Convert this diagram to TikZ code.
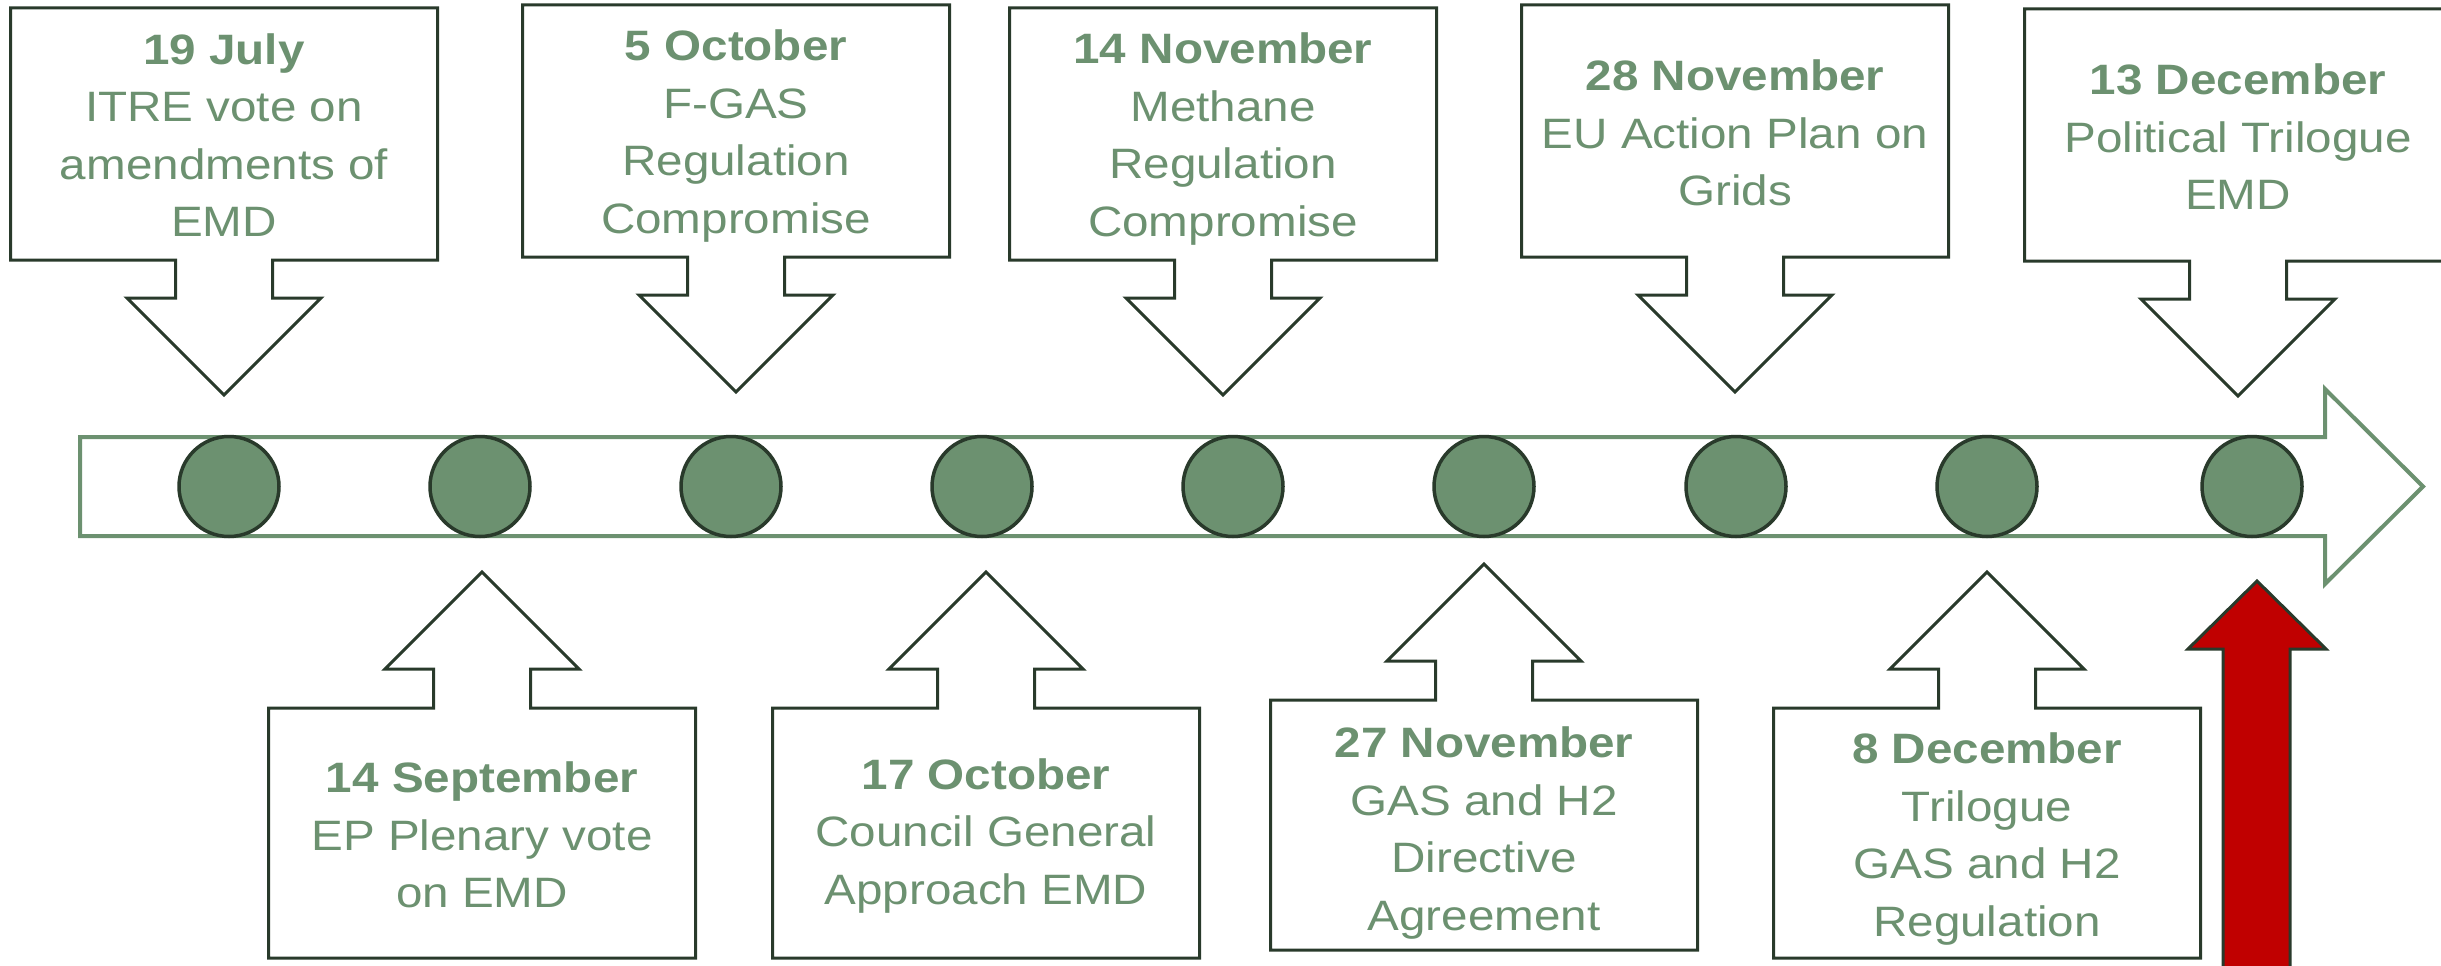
\documentclass[tikz,border=0pt]{standalone}
\usepackage{fontspec}
\setmainfont{Liberation Sans}[FakeStretch=1.12]
\definecolor{gr}{RGB}{108,145,112}
\definecolor{dk}{RGB}{41,58,43}
\definecolor{rd}{RGB}{192,0,0}
\tikzset{
  callout/.style={draw=dk, line width=3pt, fill=white, line join=miter},
  lbl/.style={align=center, inner sep=0pt, text=gr, font=\fontsize{42.5}{57.5}\selectfont},
  dot/.style={circle, draw=dk, line width=3.5pt, fill=gr, minimum size=100pt, inner sep=0pt},
  timeline/.style={draw=gr, line width=4pt, fill=white, line join=miter},
  redarrow/.style={draw=dk, line width=3pt, fill=rd, line join=miter}
}
% #1 name, #2 centre x, #3 box top y, #4 text y offset, #5 text
\newcommand\topcall[5]{%
  \draw[callout] ({#2-213.5},#3) -- ({#2+213.5},#3) -- ({#2+213.5},{#3+252}) -- ({#2+48.5},{#3+252}) -- ({#2+48.5},{#3+290}) -- ({#2+97},{#3+290}) -- (#2,{#3+387}) -- ({#2-97},{#3+290}) -- ({#2-48.5},{#3+290}) -- ({#2-48.5},{#3+252}) -- ({#2-213.5},{#3+252}) -- cycle;
  \node[lbl] (#1) at (#2,{#3+#4}) {#5};
}
\newcommand\botcall[5]{%
  \draw[callout] ({#2-213.5},{#3+250}) -- ({#2+213.5},{#3+250}) -- ({#2+213.5},#3) -- ({#2+48.5},#3) -- ({#2+48.5},{#3-39}) -- ({#2+97},{#3-39}) -- (#2,{#3-136}) -- ({#2-97},{#3-39}) -- ({#2-48.5},{#3-39}) -- ({#2-48.5},#3) -- ({#2-213.5},#3) -- cycle;
  \node[lbl] (#1) at (#2,{#3+#4}) {#5};
}
\begin{document}
\begin{tikzpicture}[x=1pt,y=-1pt]
\useasboundingbox (0,0) rectangle (2441,966);
\clip (0,0) rectangle (2441,966);
% timeline arrow
\draw[timeline] (80,437) -- (2325,437) -- (2325,389) -- (2423,486.5) -- (2325,584) -- (2325,536) -- (80,536) -- cycle;
% dots
\foreach \x [count=\i] in {229,480,731,982,1233,1484,1736,1987,2252}
  \node[dot] (d\i) at (\x,486.5) {};
% top callouts
\topcall{c1}{224}{8}{127}{\textbf{19 July}\\ITRE vote on\\amendments of\\EMD}
\topcall{c2}{736}{5}{131}{\textbf{5 October}\\F-GAS\\Regulation\\Compromise}
\topcall{c3}{1223}{8}{131}{\textbf{14 November}\\Methane\\Regulation\\Compromise}
\topcall{c4}{1735}{5}{128}{\textbf{28 November}\\EU Action Plan on\\Grids}
\topcall{c5}{2238}{9}{128}{\textbf{13 December}\\Political Trilogue\\EMD}
% bottom callouts
\botcall{b1}{482}{708}{127}{\textbf{14 September}\\EP Plenary vote\\on EMD}
\botcall{b2}{986}{708}{128}{\textbf{17 October}\\Council General\\Approach EMD}
\botcall{b3}{1484}{700}{133}{\textbf{27 November}\\GAS and H2\\Directive\\Agreement}
\botcall{b4}{1987}{708}{131}{\textbf{8 December}\\Trilogue\\GAS and H2\\Regulation}
% red arrow
\draw[redarrow] (2223,990) -- (2223,649) -- (2188,649) -- (2257,581) -- (2326,649) -- (2290,649) -- (2290,990) -- cycle;
\end{tikzpicture}
\end{document}
